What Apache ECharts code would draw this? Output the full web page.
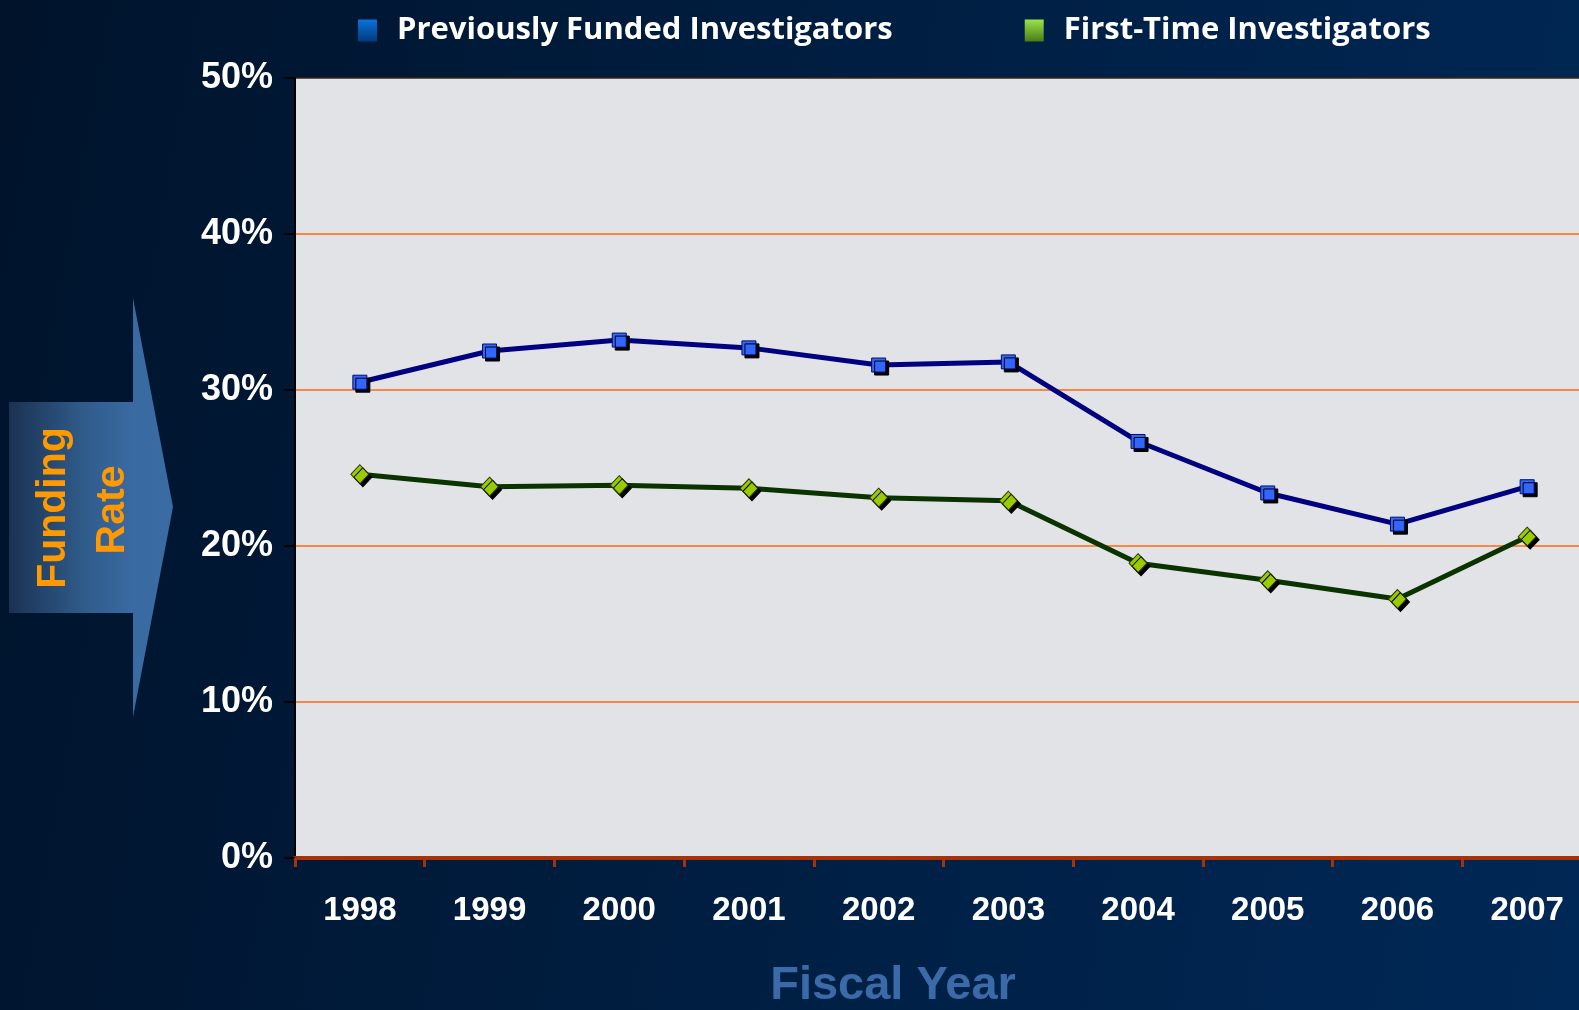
<!DOCTYPE html>
<html><head><meta charset="utf-8">
<script src="https://cdn.jsdelivr.net/npm/echarts@6/dist/echarts.min.js"></script>
<style>
html,body{margin:0;padding:0;width:1579px;height:1010px;overflow:hidden;
background:linear-gradient(100deg,#00132b 0%,#001b3b 35%,#00234c 75%,#002856 100%);}
#c{width:1579px;height:1010px;}
</style></head>
<body><div id="c"></div>
<script>
var years = ['1998','1999','2000','2001','2002','2003','2004','2005','2006','2007'];
var previouslyFunded = [30.5, 32.5, 33.2, 32.7, 31.6, 31.8, 26.7, 23.4, 21.4, 23.8];
var firstTime = [24.6, 23.8, 23.9, 23.7, 23.1, 22.9, 18.9, 17.8, 16.6, 20.6];
var seriesNames = ['Previously Funded Investigators', 'First-Time Investigators'];
var yTicks = [0, 10, 20, 30, 40, 50];

var chart = echarts.init(document.getElementById('c'), null, {renderer:'canvas'});
function grad(c1, c2){ return new echarts.graphic.LinearGradient(0,0,0,1,[{offset:0,color:c1},{offset:1,color:c2}]); }

chart.setOption({
  backgroundColor: 'transparent',
  animation: false,
  legend: {
    left: 353, top: 10,
    itemWidth: 19, itemHeight: 22, itemGap: 132,
    icon: 'rect',
    textStyle: {color:'#ffffff', fontFamily:'Open Sans', fontWeight:'bold', fontSize:31, padding:[0,0,0,15]},
    data: [
      {name: seriesNames[0], icon:'rect', itemStyle:{color: grad('#0a72dc','#003b7c'), borderWidth:0}},
      {name: seriesNames[1], icon:'rect', itemStyle:{color: grad('#9be34a','#4a7d16'), borderWidth:0}}
    ]
  },
  grid: {left: 295, top: 78, width: 1297, height: 780, show: true, backgroundColor: '#e1e3e7', borderWidth: 0, outerBoundsMode: 'none', containLabel: false},
  xAxis: {
    type: 'category', data: years, boundaryGap: true,
    axisLine: {show:true, lineStyle:{color:'#a3330b', width:4}},
    axisTick: {show:true, length:9, lineStyle:{color:'#a3330b', width:3}},
    axisLabel: {color:'#ffffff', fontFamily:'Liberation Sans, Arial', fontWeight:'bold', fontSize:33, margin:36},
    splitLine: {show:false}
  },
  yAxis: {
    type: 'value', min: yTicks[0], max: yTicks[yTicks.length-1], interval: 10,
    axisLine: {show:true, lineStyle:{color:'#000000', width:2}},
    axisTick: {show:true, length:11, lineStyle:{color:'#000000', width:2}},
    axisLabel: {color:'#ffffff', fontFamily:'Liberation Sans, Arial', fontWeight:'bold', fontSize:36, margin:22,
      formatter: function(v){ return v + '%'; }},
    splitLine: {show:true, lineStyle:{color:['rgba(0,0,0,0)','#ff6a10','#ff6a10','#ff6a10','#ff6a10','#3a2410'], width:1.5}}
  },
  series: [
    {name: seriesNames[0], type:'line', data: previouslyFunded, symbol:'rect', symbolSize:14,
     lineStyle:{color:'#000080', width:5}, z:3,
     itemStyle:{color:'#3366ff', borderColor:'#00106a', borderWidth:1, shadowColor:'#000000', shadowOffsetX:3, shadowOffsetY:3, shadowBlur:0}},
    {name: seriesNames[1], type:'line', data: firstTime, symbol:'diamond', symbolSize:[18,19],
     lineStyle:{color:'#0b3300', width:5}, z:2,
     itemStyle:{color:'#99cc00', borderColor:'#2a3300', borderWidth:1, shadowColor:'#000000', shadowOffsetX:3, shadowOffsetY:3, shadowBlur:0}}
  ],
  graphic: [
    {type:'polygon', z:-1, shape:{points:[[9,402],[133,402],[133,298],[173,507],[133,717],[133,613],[9,613]]},
     style:{fill: new echarts.graphic.LinearGradient(0,0,1,0,[{offset:0,color:'#1b3252'},{offset:0.45,color:'#2f5b8a'},{offset:0.75,color:'#3a6aa2'},{offset:1,color:'#3b6ba3'}])}},
    {type:'text', x:54, y:508, rotation:Math.PI/2, style:{text:'Funding', fill:'#ff9900', font:'bold 41px "Liberation Sans", Arial', align:'center', verticalAlign:'middle'}},
    {type:'text', x:113, y:510, rotation:Math.PI/2, style:{text:'Rate', fill:'#ff9900', font:'bold 41px "Liberation Sans", Arial', align:'center', verticalAlign:'middle'}},
    {type:'text', x:893, y:986, style:{text:'Fiscal Year', fill:'#3a6aa8', font:'bold 47px "Liberation Sans", Arial', align:'center', verticalAlign:'middle'}}
  ]
});
</script></body></html>
